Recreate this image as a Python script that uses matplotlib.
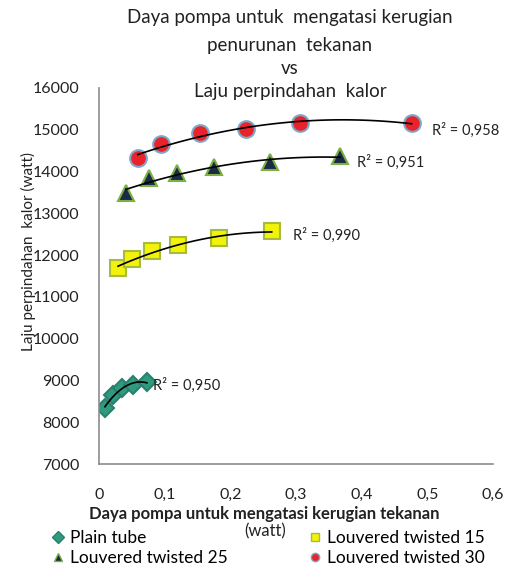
import numpy as np
import matplotlib
matplotlib.use("Agg")
import matplotlib.pyplot as plt
from matplotlib.lines import Line2D

plt.rcParams['font.family'] = ['Lato', 'DejaVu Sans']

# Data
pt_x = [0.009, 0.021, 0.035, 0.052, 0.073]
pt_y = [8340, 8650, 8820, 8890, 8960]
lt15_x = [0.029, 0.050, 0.081, 0.120, 0.183, 0.263]
lt15_y = [11690, 11900, 12100, 12240, 12410, 12570]
lt25_x = [0.041, 0.076, 0.119, 0.175, 0.260, 0.367]
lt25_y = [13480, 13840, 13960, 14100, 14220, 14370]
lt30_x = [0.059, 0.094, 0.154, 0.224, 0.306, 0.476]
lt30_y = [14320, 14650, 14920, 15010, 15160, 15160]
r2_labels = ["R² = 0,950", "R² = 0,990", "R² = 0,951", "R² = 0,958"]
series_names = ["Plain tube", "Louvered twisted 15", "Louvered twisted 25", "Louvered twisted 30"]

fig = plt.figure(figsize=(5.17, 5.72), dpi=100)
ax = fig.add_axes([0.1915, 0.1888, 0.7621, 0.6574])

styles = [
    dict(marker='D', color='#2E9B7E', mec='#2A7F6F', ms=9),
    dict(marker='s', color='#F2F20A', mec='#A8BC3C', ms=12),
    dict(marker='^', color='#1B2A47', mec='#7DB042', ms=11),
    dict(marker='o', color='#E8232B', mec='#7FA6C8', ms=12),
]
data = [(pt_x, pt_y), (lt15_x, lt15_y), (lt25_x, lt25_y), (lt30_x, lt30_y)]
r2_pos = [(0.082, 8890), (0.295, 12480), (0.393, 14225), (0.507, 14990)]

tc = '#222222'
for (xs, ys), st, lab, pos in zip(data, styles, r2_labels, r2_pos):
    xs = np.array(xs); ys = np.array(ys)
    ax.plot(xs, ys, linestyle='none', marker=st['marker'], mfc=st['color'],
            mec=st['mec'], ms=st['ms'], mew=1.5, zorder=2)
    c = np.polyfit(xs, ys, 2)
    xx = np.linspace(xs.min(), xs.max(), 100)
    ax.plot(xx, np.polyval(c, xx), color='black', lw=1.2, zorder=3)
    ax.text(pos[0], pos[1], lab, fontsize=10.5, ha='left', va='center', color=tc)

ax.set_xlim(0, 0.6)
ax.set_ylim(7000, 16000)
ax.set_xticks(np.arange(0, 0.61, 0.1))
ax.set_xticklabels(['0', '0,1', '0,2', '0,3', '0,4', '0,5', '0,6'])
ax.set_yticks(np.arange(7000, 16001, 1000))
ax.set_yticklabels([str(v) for v in range(7000, 16001, 1000)])
ax.tick_params(length=0, labelsize=11.5, colors=tc)
ax.tick_params(axis='y', pad=14)
ax.tick_params(axis='x', pad=17)
for s in ['top', 'right']:
    ax.spines[s].set_visible(False)
for s in ['left', 'bottom']:
    ax.spines[s].set_color('#8C8C8C')
    ax.spines[s].set_linewidth(1.2)

ax.set_ylabel('Laju perpindahan  kalor (watt)', fontsize=11, color=tc)
ax.yaxis.set_label_coords(-0.16, 0.565)

tkw = dict(ha='center', va='center', fontsize=13.5, color=tc)
fig.text(290/517, 1 - 17/572, 'Daya pompa untuk  mengatasi kerugian', **tkw)
fig.text(290/517, 1 - 45/572, 'penurunan  tekanan', **tkw)
fig.text(290/517, 1 - 69/572, 'vs', **tkw)
fig.text(290/517, 1 - 92/572, 'Laju perpindahan  kalor', **tkw)

fig.text(264/517, 1 - 514/572, 'Daya pompa untuk mengatasi kerugian tekanan', ha='center', va='center',
         fontsize=12, fontweight='bold', color=tc)
fig.text(265/517, 1 - 531/572, '(watt)', ha='center', va='center', fontsize=12, color=tc)

handles = []
for st in styles:
    handles.append(Line2D([], [], linestyle='none', marker=st['marker'], mfc=st['color'],
                          mec=st['mec'], ms=6, mew=1))
order = [0, 2, 1, 3]
fig.legend([handles[i] for i in order], [series_names[i] for i in order], ncol=2,
           loc='center', bbox_to_anchor=(268/517, 1 - 548/572), frameon=False,
           fontsize=12.5, handlelength=0.8, handletextpad=0.3, columnspacing=4.6,
           labelspacing=0.25, borderpad=0)

fig.savefig('out.png', dpi=100)
